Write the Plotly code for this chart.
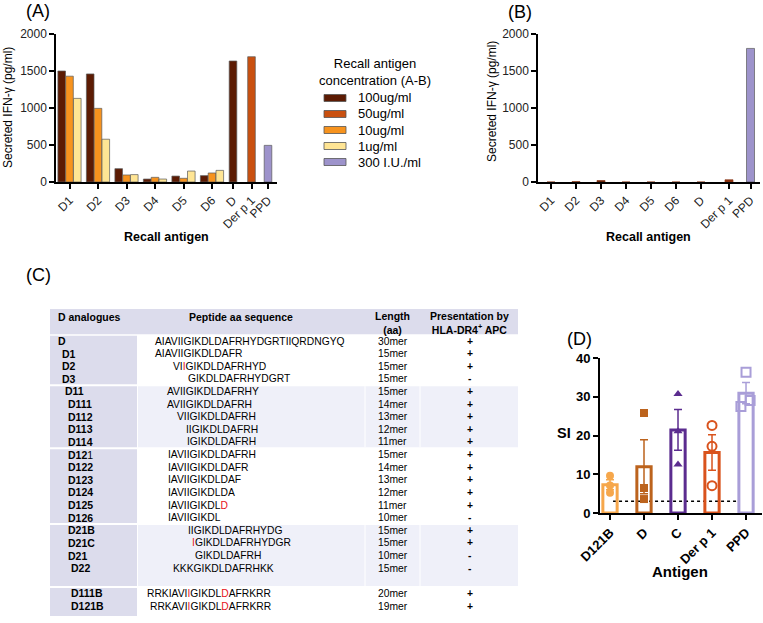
import numpy as np
import plotly.graph_objects as go

W, H = 763, 623
FONT = "Arial, 'Liberation Sans', sans-serif"


def X(p):
    return p / W


def Y(p):
    return 1 - p / H


# ---------------- Data: panel A ----------------
a_categories = ["D1", "D2", "D3", "D4", "D5", "D6", "D", "Der p 1", "PPD"]
a_100ug = [1500, 1460, 180, 40, 80, 86, 1635]      # D1..D6, D
a_10ug = [1430, 995, 95, 63, 50, 122]              # D1..D6
a_1ug = [1130, 578, 100, 40, 148, 157]             # D1..D6
a_50ug = [1693]                                    # Der p 1
a_ppd = [495]                                      # PPD

# ---------------- Data: panel B ----------------
b_categories = ["D1", "D2", "D3", "D4", "D5", "D6", "D", "Der p 1", "PPD"]
b_100ug = [0, 5, 20, 0, 0, 0, 0]                   # D1..D6, D
b_50ug = [30]                                      # Der p 1
b_ppd = [1805]                                     # PPD

legend_title = "Recall antigen<br>concentration (A-B)"
legend_labels = ["100ug/ml", "50ug/ml", "10ug/ml", "1ug/ml", "300 I.U./ml"]

# ---------------- Data: panel C (table) ----------------
analogues = ["D", "D1", "D2", "D3",
             "D11", "D111", "D112", "D113", "D114",
             "D121", "D122", "D123", "D124", "D125", "D126",
             "D21B", "D21C", "D21", "D22", "",
             "D111B", "D121B"]
sequences = ["AIAVIIGIKDLDAFRHYDGRTIIQRDNGYQ", "AIAVIIGIKDLDAFR", "VIIGIKDLDAFRHYD", "GIKDLDAFRHYDGRT",
             "AVIIGIKDLDAFRHY", "AVIIGIKDLDAFRH", "VIIGIKDLDAFRH", "IIGIKDLDAFRH", "IGIKDLDAFRH",
             "IAVIIGIKDLDAFRH", "IAVIIGIKDLDAFR", "IAVIIGIKDLDAF", "IAVIIGIKDLDA", "IAVIIGIKDLD", "IAVIIGIKDL",
             "IIGIKDLDAFRHYDG", "IGIKDLDAFRHYDGR", "GIKDLDAFRH", "KKKGIKDLDAFRHKK", "",
             "RRKIAVIIGIKDLDAFRKRR", "RRKAVIIGIKDLDAFRKRR"]
red_residues = [[], [], [2], [],
                [], [], [], [], [],
                [], [], [], [], [10], [],
                [], [0], [], [], [],
                [7, 13], [6, 12]]
lengths = ["30mer", "15mer", "15mer", "15mer",
           "15mer", "14mer", "13mer", "12mer", "11mer",
           "15mer", "14mer", "13mer", "12mer", "11mer", "10mer",
           "15mer", "15mer", "10mer", "15mer", "",
           "20mer", "19mer"]
presentation = ["+", "+", "+", "-",
                "+", "+", "+", "+", "+",
                "+", "+", "+", "+", "+", "-",
                "+", "+", "-", "-", "",
                "+", "+"]
row_group = [0, 0, 0, 0, 1, 1, 1, 1, 1, 2, 2, 2, 2, 2, 2, 3, 3, 3, 3, 3, 4, 4]
table_headers = ["D analogues", "Peptide aa sequence", "Length<br>(aa)", "Presentation by<br>HLA-DR4<sup>+</sup> APC"]

# ---------------- Data: panel D ----------------
d_categories = ["D121B", "D", "C", "Der p 1", "PPD"]
si_d121b = [9.6, 7.1, 5.2]
si_d = [25.8, 6.45, 3.6]
si_c = [30.7, 21.1, 12.5]
si_derp1 = [22.6, 17.2, 7.05]
si_ppd = [36.3, 27.5, 29.0]
si_threshold = 3

# ---------------- Styles / layout constants ----------------
C100, C50, C10, C1, CPPD = "#5C1B03", "#C9500F", "#F7931E", "#FFE594", "#9D93CB"
legend_colors = [C100, C50, C10, C1, CPPD]
BAR_LINE = dict(color="#5a5a5a", width=0.7)

a_pos = [13.5, 42, 70.5, 99, 127.5, 156, 177, 195.5, 212]   # px-units along A axis
a_off = 7.8
a_w = 7.6
b_pos = [13, 38, 63, 88, 113, 138, 163, 191, 212.5]
b_w = 8

d_colors = ["#F6A74B", "#BC631D", "#5B2C8F", "#D9531D", "#A99ED8"]
d_symbols = ["circle", "square", "triangle-up", "circle-open", "square-open"]
d_jitter = [[0, 0, 0], [0, 0, 0], [0, 0, 0], [0, 0, 0], [0, -0.15, 0.12]]

fig = go.Figure()

# ---------- Panel A bars ----------
fig.add_bar(x=[p - a_off for p in a_pos[:6]] + [a_pos[6]], y=a_100ug, width=a_w,
            marker=dict(color=C100, line=BAR_LINE), xaxis="x", yaxis="y", showlegend=False)
fig.add_bar(x=a_pos[:6], y=a_10ug, width=a_w,
            marker=dict(color=C10, line=BAR_LINE), xaxis="x", yaxis="y", showlegend=False)
fig.add_bar(x=[p + a_off for p in a_pos[:6]], y=a_1ug, width=a_w,
            marker=dict(color=C1, line=BAR_LINE), xaxis="x", yaxis="y", showlegend=False)
fig.add_bar(x=[a_pos[7]], y=a_50ug, width=a_w,
            marker=dict(color=C50, line=BAR_LINE), xaxis="x", yaxis="y", showlegend=False)
fig.add_bar(x=[a_pos[8]], y=a_ppd, width=a_w,
            marker=dict(color=CPPD, line=BAR_LINE), xaxis="x", yaxis="y", showlegend=False)

# ---------- Panel B bars ----------
fig.add_bar(x=b_pos[:7], y=b_100ug, width=b_w,
            marker=dict(color=C100, line=dict(color="#8a3a1a", width=0.7)), xaxis="x2", yaxis="y2", showlegend=False)
fig.add_bar(x=[b_pos[7]], y=b_50ug, width=b_w,
            marker=dict(color="#8B2E0C", line=dict(color="#8a3a1a", width=0.7)), xaxis="x2", yaxis="y2", showlegend=False)
fig.add_bar(x=[b_pos[8]], y=b_ppd, width=b_w,
            marker=dict(color=CPPD, line=BAR_LINE), xaxis="x2", yaxis="y2", showlegend=False)

# ---------- Panel D ----------
si_all = [si_d121b, si_d, si_c, si_derp1, si_ppd]
for i, vals in enumerate(si_all):
    v = np.array(vals, dtype=float)
    mean = v.mean()
    sem = v.std(ddof=1) / np.sqrt(len(v))
    col = d_colors[i]
    fig.add_bar(x=[i], y=[mean], width=0.42, xaxis="x3", yaxis="y3", showlegend=False,
                marker=dict(color="rgba(0,0,0,0)", line=dict(color=col, width=3)),
                error_y=dict(type="data", array=[sem], color=col, thickness=1.5, width=4))
    open_sym = d_symbols[i].endswith("open")
    fig.add_scatter(x=[i + j for j in d_jitter[i]], y=vals, mode="markers", xaxis="x3", yaxis="y3",
                    showlegend=False, cliponaxis=False,
                    marker=dict(symbol=d_symbols[i], size=9 if open_sym else 8, color=col,
                                line=dict(color=col, width=2 if open_sym else 0)))

axis_common = dict(showline=True, linecolor="black", linewidth=1.5, ticks="outside", ticklen=5,
                   tickwidth=1.5, tickcolor="black", showgrid=False, zeroline=False, fixedrange=True,
                   automargin=False)
tickfont = dict(family=FONT, size=12, color="#222")

layout = dict(
    width=W, height=H, autosize=False, margin=dict(l=0, r=0, t=0, b=0, pad=0, autoexpand=False),
    paper_bgcolor="white", plot_bgcolor="rgba(0,0,0,0)", barmode="overlay",
    font=dict(family=FONT, color="black"),
    xaxis=dict(domain=[X(56), X(277)], range=[0, 221], anchor="y", tickvals=a_pos, ticktext=a_categories,
               tickangle=-45, tickfont=tickfont, **axis_common),
    yaxis=dict(domain=[Y(182), Y(34)], range=[0, 2000], anchor="x", tickvals=[0, 500, 1000, 1500, 2000],
               tickfont=tickfont, **axis_common),
    xaxis2=dict(domain=[X(538), X(760)], range=[0, 222], anchor="y2", tickvals=b_pos, ticktext=b_categories,
                tickangle=-45, tickfont=tickfont, **axis_common),
    yaxis2=dict(domain=[Y(182), Y(34)], range=[0, 2000], anchor="x2", tickvals=[0, 500, 1000, 1500, 2000],
                tickfont=tickfont, **axis_common),
)
axisD = dict(axis_common)
axisD.update(linewidth=2, tickwidth=2, ticklen=5)
layout["xaxis3"] = dict(domain=[X(600), X(762)], range=[-0.294, 4.47], anchor="y3", tickvals=list(range(5)),
                        ticktext=d_categories, tickangle=-45,
                        tickfont=dict(family=FONT, size=13, color="black", weight="bold"), **axisD)
layout["yaxis3"] = dict(domain=[Y(513), Y(358)], range=[0, 40], anchor="x3", tickvals=[0, 10, 20, 30, 40],
                        tickfont=dict(family=FONT, size=13, color="black", weight="bold"), **axisD)
fig.update_layout(**layout)

shapes = []
annotations = []


def ann(x, y, text, size=12, xanchor="left", angle=0, color="black"):
    annotations.append(dict(x=X(x), y=Y(y), xref="paper", yref="paper", text=text, showarrow=False,
                            xanchor=xanchor, yanchor="middle", textangle=angle, borderpad=0,
                            font=dict(family=FONT, size=size, color=color)))


def rect(x0, y0, x1, y1, fill, line=None):
    shapes.append(dict(type="rect", xref="paper", yref="paper", x0=X(x0), x1=X(x1), y0=Y(y1), y1=Y(y0),
                       fillcolor=fill, line=line or dict(width=0), layer="below"))


# threshold dotted line in panel D
shapes.append(dict(type="line", xref="x3", yref="y3", x0=0.09, x1=3.74, y0=si_threshold, y1=si_threshold,
                   line=dict(color="black", width=1.5, dash="dot"), layer="below"))

# panel labels
ann(25, 11, "(A)", 18)
ann(507, 12, "(B)", 18)
ann(25, 275, "(C)", 18)
ann(566, 339, "(D)", 18)

# axis titles
ann(8, 108, "Secreted IFN-γ (pg/ml)", 12, xanchor="center", angle=-90)
ann(492, 102, "Secreted IFN-γ (pg/ml)", 12, xanchor="center", angle=-90)
ann(166, 237, "<b>Recall antigen</b>", 12.5, xanchor="center")
ann(648, 237, "<b>Recall antigen</b>", 12.5, xanchor="center")
ann(564, 433, "<b>SI</b>", 14.5, xanchor="center")
ann(680, 571, "<b>Antigen</b>", 15, xanchor="center")

# legend (manual)
ann(375, 72, legend_title, 13, xanchor="center")
for i, (lab, col) in enumerate(zip(legend_labels, legend_colors)):
    yc = 98 + 16 * i
    shapes.append(dict(type="rect", xref="paper", yref="paper", x0=X(324), x1=X(346), y0=Y(yc + 3.5),
                       y1=Y(yc - 3.5), fillcolor=col, line=dict(color="#555", width=0.8)))
    ann(357, yc, lab, 13)

# ---------- Panel C table ----------
T_L, T_C1, T_R = 50, 137, 518
HDR_T, ROW0, PITCH = 309, 341, 12.62
HDR_B = ROW0 - PITCH / 2
TAB_B = 617
LAV = "#DCDCEC"
SHADE = "#EFF0F9"

rect(T_L, HDR_T, T_R, HDR_B - 0.5, LAV)
n_groups = max(row_group) + 1
for g in range(n_groups):
    idx = [i for i, gg in enumerate(row_group) if gg == g]
    top = ROW0 - PITCH / 2 + idx[0] * PITCH
    bot = ROW0 + PITCH / 2 + idx[-1] * PITCH
    if g == n_groups - 1:
        bot = TAB_B
    rect(T_L, top + 1, T_C1, bot - 1, LAV)
    if g % 2 == 1:
        rect(T_C1 + 1, top + 1, T_R, bot - 1, SHADE)
        shapes.append(dict(type="line", xref="paper", yref="paper", x0=X(365), x1=X(365), y0=Y(bot - 1),
                           y1=Y(top + 1), line=dict(color="white", width=1), layer="below"))
        shapes.append(dict(type="line", xref="paper", yref="paper", x0=X(420), x1=X(420), y0=Y(bot - 1),
                           y1=Y(top + 1), line=dict(color="white", width=1), layer="below"))

# headers
ann(57, 317, "<b>" + table_headers[0] + "</b>", 10.5)
ann(241, 317, "<b>" + table_headers[1] + "</b>", 10.5, xanchor="center")
ann(392.5, 323, "<b>" + table_headers[2] + "</b>", 10.5, xanchor="center")
ann(469, 323, "<b>" + table_headers[3] + "</b>", 10.5, xanchor="center")

label_x = [57, 61, 61, 61, 64, 67, 67, 67, 67, 67, 67, 67, 67, 67, 67, 67, 67, 67, 70, 70, 70, 70]
seq_x = [154, 154, 172, 187, 166, 166, 176, 185, 186, 167, 167, 167, 167, 167, 167,
         187, 191, 194, 172, 172, 146, 149]

for i, name in enumerate(analogues):
    yc = ROW0 + i * PITCH
    if name:
        label = "<b>" + name + "</b>"
        if name == "D121":
            label = "<b>" + name[:-1] + "</b>" + name[-1]
        ann(label_x[i], yc, label, 10.5)
    seq = sequences[i]
    if seq:
        parts = []
        for k, ch in enumerate(seq):
            if k in red_residues[i]:
                parts.append("<span style='color:#E8141B'>" + ch + "</span>")
            else:
                parts.append(ch)
        ann(seq_x[i], yc, "".join(parts), 10.3)
    if lengths[i]:
        ann(392.5, yc, lengths[i], 10.3, xanchor="center")
    if presentation[i]:
        ann(469.5, yc, "<b>" + presentation[i] + "</b>", 10.3, xanchor="center")

fig.update_layout(shapes=shapes, annotations=annotations)
fig.write_html("out.html")
